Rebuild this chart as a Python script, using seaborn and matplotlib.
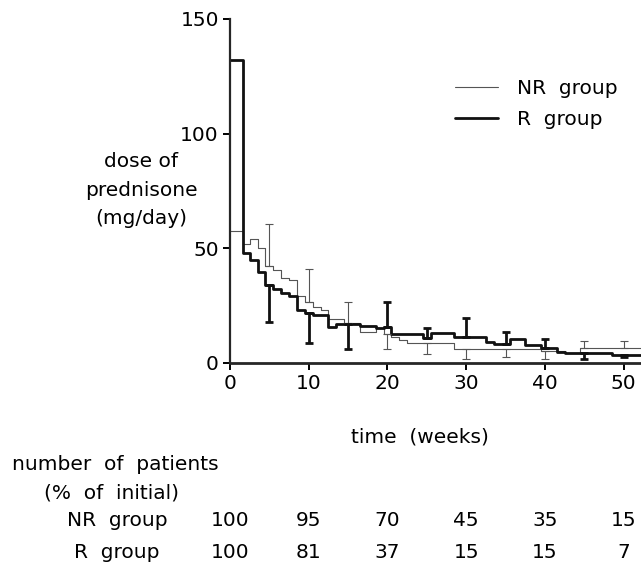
import matplotlib
matplotlib.use("Agg")
import matplotlib.pyplot as plt
import seaborn as sns
import numpy as np
import pandas as pd

# step curves of mean prednisone dose (mg/day)
nr_weeks = [0, 1.6, 2.5, 3.5, 4.5, 5.5, 6.5, 7.5, 8.5, 9.5, 10.5, 11.5, 12.5, 14.5,
            16.5, 18.5, 19.5, 20.5, 21.5, 22.5, 28.5, 39.5, 42.5, 44.5, 52.2]
nr_dose = [57.5, 52, 54, 50, 42, 40.5, 37, 36, 29, 26.7, 24.5, 23, 19, 17.2,
           13.3, 15, 12.5, 11.4, 9.9, 8.8, 5.8, 5.1, 4.4, 6.3]

r_weeks = [0, 1.6, 2.5, 3.5, 4.5, 5.5, 6.5, 7.5, 8.5, 9.5, 10.5, 12.5, 13.5, 16.5,
           18.5, 19.5, 20.5, 24.5, 25.5, 28.5, 32.5, 33.5, 35.5, 37.5, 39.5, 41.5,
           42.5, 48.5, 52.2]
r_dose = [132, 48, 45, 39.5, 34, 32, 30.3, 29, 23, 21.6, 21, 15.5, 17, 15.8,
          15.2, 15.5, 12.5, 10.7, 12.9, 11.4, 9.2, 8.0, 10.2, 7.7, 6.6, 4.8,
          4.4, 3.4]

# one-sided error bars (positive = drawn upward, negative = downward)
err_weeks = [5, 10, 15, 20, 25, 30, 35, 40, 45, 50]
nr_err = [18.6, 14.1, 9.2, -6.7, -5.0, -4.2, -3.5, -3.5, 3.3, 3.3]
r_err = [-16.4, -12.9, -11.2, 11.2, 4.6, 8.3, 5.3, 3.6, -2.8, -1.1]

# patients remaining (% of initial)
table_weeks = [0, 10, 20, 30, 40, 50]
nr_patients = [100, 95, 70, 45, 35, 15]
r_patients = [100, 81, 37, 15, 15, 7]


def step_frame(weeks, dose, name):
    # steps-post needs the last value repeated at the closing edge
    return pd.DataFrame({"week": weeks, "dose": list(dose) + [dose[-1]], "group": name})


def value_at(weeks, dose, w):
    i = np.searchsorted(weeks, w, side="right") - 1
    return dose[i]


sns.set_style("ticks")
plt.rcParams["font.family"] = ["DejaVu Sans"]
plt.rcParams["text.color"] = "black"
fs = 14.5

fig = plt.figure(figsize=(6.41, 5.67), dpi=100)
ax = fig.add_axes([230 / 641, 1 - 362.7 / 567, 411 / 641, 343.7 / 567])

df = pd.concat([step_frame(nr_weeks, nr_dose, "NR  group"),
                step_frame(r_weeks, r_dose, "R  group")])

sns.lineplot(data=df, x="week", y="dose", hue="group", size="group",
             palette={"NR  group": "#555555", "R  group": "#111111"},
             sizes={"NR  group": 0.8, "R  group": 2.0},
             drawstyle="steps-post", estimator=None, ax=ax)

for weeks, dose, err, col, lw in [(nr_weeks, nr_dose, nr_err, "#555555", 0.8),
                                  (r_weeks, r_dose, r_err, "#111111", 2.0)]:
    mean = np.array([value_at(weeks, dose, w) for w in err_weeks])
    err = np.array(err)
    lo = np.where(err < 0, -err, 0)
    hi = np.where(err > 0, err, 0)
    ax.errorbar(err_weeks, mean, yerr=[lo, hi], fmt="none", ecolor=col,
                elinewidth=lw, capsize=3, capthick=lw)

ax.set_xlim(0, 52.2)
ax.set_ylim(0, 150)
ax.set_xticks([0, 10, 20, 30, 40, 50])
ax.set_yticks([0, 50, 100, 150])
sns.despine(ax=ax)
ax.spines["left"].set_linewidth(1.6)
ax.spines["bottom"].set_linewidth(2.0)
ax.tick_params(axis="both", direction="out", length=5, width=1.4, labelsize=fs,
               colors="black", pad=3)

ax.set_xlabel("time  (weeks)", fontsize=fs, color="black")
ax.xaxis.set_label_coords((420 - 230) / 411, (362.7 - 437) / 343.7)
ax.xaxis.label.set_va("center")
ax.set_ylabel("dose of\nprednisone\n(mg/day)", rotation=0, ha="center", va="center",
              fontsize=fs, linespacing=1.65, color="black")
ax.yaxis.set_label_coords((141 - 230) / 411, (362.7 - 190) / 343.7)

leg = ax.legend(loc="upper left", bbox_to_anchor=(0.548, 0.826), frameon=False,
                handlelength=2.1, handletextpad=0.95, labelspacing=0.6,
                borderpad=0, borderaxespad=0, fontsize=fs)

# patient table under the axis
tr = ax.get_xaxis_transform()
fig.text(115 / 641, 1 - 465 / 567, "number  of  patients", ha="center", va="center", fontsize=fs)
fig.text(112 / 641, 1 - 493 / 567, "(%  of  initial)", ha="center", va="center", fontsize=fs)
fig.text(117 / 641, 1 - 520 / 567, "NR  group", ha="center", va="center", fontsize=fs)
fig.text(117 / 641, 1 - 552 / 567, "R  group", ha="center", va="center", fontsize=fs)
for w, a, b in zip(table_weeks, nr_patients, r_patients):
    ax.text(w, (362.7 - 520) / 343.7, str(a), transform=tr, ha="center", va="center", fontsize=fs)
    ax.text(w, (362.7 - 552) / 343.7, str(b), transform=tr, ha="center", va="center", fontsize=fs)

fig.savefig("out.png", dpi=100)
